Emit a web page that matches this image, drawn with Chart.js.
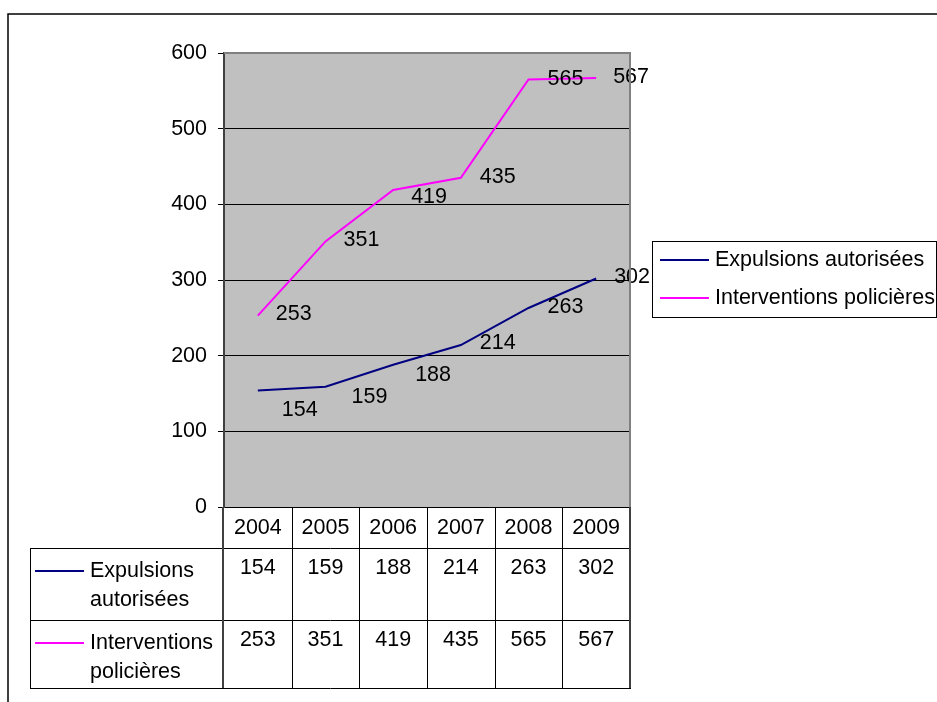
<!DOCTYPE html>
<html>
<head>
<meta charset="utf-8">
<script src="https://cdn.jsdelivr.net/npm/chart.js@4.4.0/dist/chart.umd.min.js"></script>
<style>
  html, body { margin: 0; padding: 0; background: #fff; }
  #wrap { width: 937px; height: 702px; position: relative; }
  canvas { display: block; }
</style>
</head>
<body>
<div id="wrap"><canvas id="chart"></canvas></div>
<script>
// data
const years = ['2004', '2005', '2006', '2007', '2008', '2009'];
const expulsions = [154, 159, 188, 214, 263, 302];
const interventions = [253, 351, 419, 435, 565, 567];
const seriesNames = ['Expulsions autorisées', 'Interventions policières'];
const seriesColors = ['#000080', '#FF00FF'];
const yTicks = [0, 100, 200, 300, 400, 500, 600];

const FONT = '21.5px "Liberation Sans", Arial, sans-serif';

Chart.defaults.font.family = '"Liberation Sans", Arial, sans-serif';
Chart.defaults.font.size = 21.5;
Chart.defaults.color = '#000';

// extra nudges for value labels (Excel placed a few lower than the rest)
const labelNudge = [
    [[6, 21], [8, 11], [4, 11], [1, -1], [1, 0], [0, 0]],
    [[0, 0], [0, 0], [0, 8], [1, 0], [1, 1], [-1, 0]],
];

const excelPlugin = {
    id: 'excelLook',
    beforeDraw(chart) {
        const ctx = chart.ctx;
        const a = chart.chartArea;
        ctx.save();
        ctx.fillStyle = '#fff';
        ctx.fillRect(0, 0, chart.width, chart.height);
        // outer frame, runs off the right and bottom
        ctx.strokeStyle = '#000';
        ctx.lineWidth = 1.5;
        ctx.strokeRect(8, 14, 960, 720);
        // plot area
        ctx.fillStyle = '#C0C0C0';
        ctx.fillRect(a.left, a.top, a.right - a.left, a.bottom - a.top);
        ctx.restore();
    },
    afterDatasetsDraw(chart) {
        const ctx = chart.ctx;
        ctx.save();
        ctx.font = FONT;
        ctx.fillStyle = '#000';
        ctx.textAlign = 'left';
        ctx.textBaseline = 'middle';
        chart.data.datasets.forEach((ds, di) => {
            const meta = chart.getDatasetMeta(di);
            meta.data.forEach((pt, i) => {
                const n = labelNudge[di][i];
                ctx.fillText(String(ds.data[i]), pt.x + 18 + n[0], pt.y - 1 + n[1]);
            });
        });
        ctx.restore();
    },
    afterDraw(chart) {
        const ctx = chart.ctx;
        const a = chart.chartArea;
        const x = chart.scales.x;
        const half = (x.getPixelForValue(1) - x.getPixelForValue(0)) / 2;
        ctx.save();

        // plot border top/right
        ctx.strokeStyle = '#808080';
        ctx.lineWidth = 2;
        ctx.beginPath();
        ctx.moveTo(a.left, a.top);
        ctx.lineTo(a.right, a.top);
        ctx.lineTo(a.right, a.bottom);
        ctx.stroke();

        // data table
        const rowTop = [a.bottom, 548, 620, 688];
        const tLeft = 30;
        const tRight = a.right + 1;
        ctx.strokeStyle = '#000';
        ctx.lineWidth = 1;
        ctx.beginPath();
        for (let r = 1; r < rowTop.length; r++) {
            ctx.moveTo(tLeft, rowTop[r] + 0.5);
            ctx.lineTo(tRight, rowTop[r] + 0.5);
        }
        ctx.moveTo(tLeft + 0.5, rowTop[1]);
        ctx.lineTo(tLeft + 0.5, rowTop[3]);
        for (let i = 1; i < years.length; i++) {
            const cx = Math.round(x.getPixelForValue(i) - half) + 0.5;
            ctx.moveTo(cx, rowTop[0]);
            ctx.lineTo(cx, rowTop[3]);
        }
        ctx.stroke();
        ctx.strokeStyle = '#404040';
        ctx.lineWidth = 2;
        ctx.beginPath();
        ctx.moveTo(a.left - 1, rowTop[0]);
        ctx.lineTo(a.left - 1, rowTop[3]);
        ctx.moveTo(a.right, rowTop[0]);
        ctx.lineTo(a.right, rowTop[3]);
        ctx.stroke();

        // table rows: legend key, name, values
        ctx.font = FONT;
        ctx.fillStyle = '#000';
        ctx.textBaseline = 'middle';
        const series = [expulsions, interventions];
        series.forEach((vals, si) => {
            const top = rowTop[si + 1];
            const words = seriesNames[si].split(' ');
            ctx.strokeStyle = seriesColors[si];
            ctx.lineWidth = 2;
            ctx.beginPath();
            ctx.moveTo(35, top + 23);
            ctx.lineTo(84, top + 23);
            ctx.stroke();
            ctx.textAlign = 'left';
            ctx.fillText(words[0], 90, top + 23);
            ctx.fillText(words.slice(1).join(' '), 90, top + 52);
            ctx.textAlign = 'center';
            vals.forEach((v, i) => {
                ctx.fillText(String(v), x.getPixelForValue(i), top + 20);
            });
        });

        // legend
        const lx = 652, ly = 241, lw = 284, lh = 76;
        ctx.strokeStyle = '#000';
        ctx.lineWidth = 1;
        ctx.strokeRect(lx + 0.5, ly + 0.5, lw, lh);
        ctx.textAlign = 'left';
        seriesNames.forEach((name, si) => {
            const yy = ly + 19 + si * 38;
            ctx.strokeStyle = seriesColors[si];
            ctx.lineWidth = 2;
            ctx.beginPath();
            ctx.moveTo(lx + 8, yy);
            ctx.lineTo(lx + 57, yy);
            ctx.stroke();
            ctx.fillText(name, lx + 63, yy);
        });
        ctx.restore();
    }
};

const ctxEl = document.getElementById('chart');
new Chart(ctxEl, {
    type: 'line',
    data: {
        labels: years,
        datasets: [
            {
                label: seriesNames[0],
                data: expulsions,
                borderColor: seriesColors[0],
                backgroundColor: seriesColors[0],
                borderWidth: 2,
                pointRadius: 0,
                tension: 0,
                clip: false,
            },
            {
                label: seriesNames[1],
                data: interventions,
                borderColor: seriesColors[1],
                backgroundColor: seriesColors[1],
                borderWidth: 2,
                pointRadius: 0,
                tension: 0,
                clip: false,
            },
        ],
    },
    options: {
        responsive: true,
        maintainAspectRatio: false,
        animation: false,
        events: [],
        layout: { padding: { left: 0, top: 53, right: 307, bottom: 154 } },
        plugins: {
            legend: { display: false },
            tooltip: { enabled: false },
        },
        scales: {
            x: {
                offset: true,
                grid: { display: false },
                border: { display: false },
                ticks: { padding: 0, color: '#000', maxRotation: 0 },
                afterFit: (s) => { s.height = 41; },
            },
            y: {
                min: 0,
                max: 600,
                afterBuildTicks: (s) => { s.ticks = yTicks.map(v => ({ value: v })); },
                grid: {
                    color: (c) => (c.tick && c.tick.value === 600 ? '#808080' : '#000'),
                    lineWidth: 1,
                    tickLength: 6,
                    tickColor: '#000',
                },
                border: { color: '#404040', width: 2 },
                ticks: { padding: 11, color: '#000' },
                afterFit: (s) => { s.width = 224; },
            },
        },
    },
    plugins: [excelPlugin],
});
</script>
</body>
</html>
